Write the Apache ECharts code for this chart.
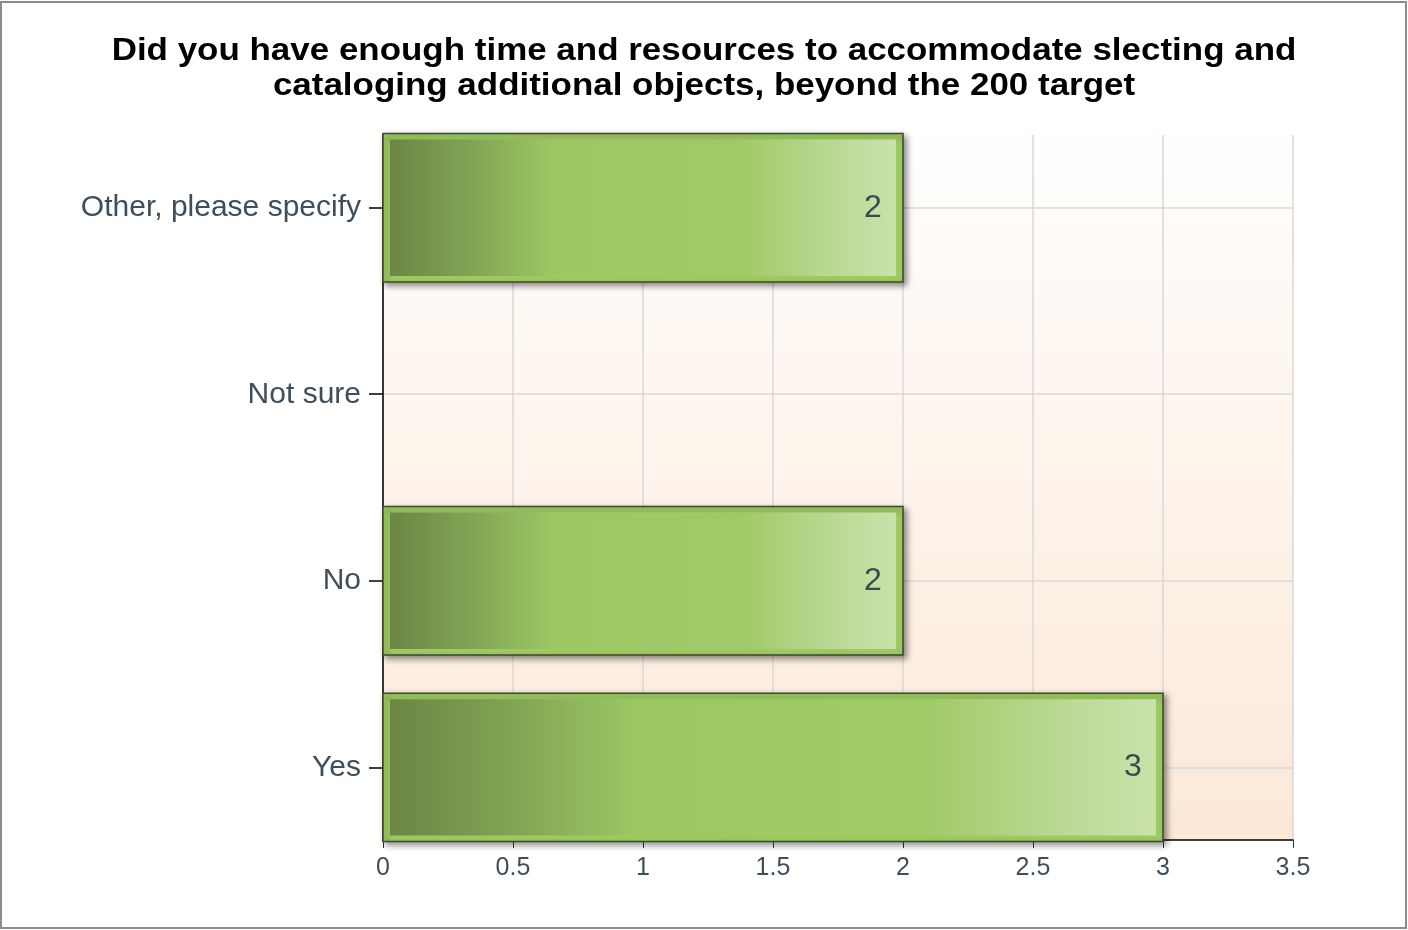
<!DOCTYPE html>
<html>
<head>
<meta charset="utf-8">
<script src="https://cdn.jsdelivr.net/npm/echarts@6/dist/echarts.min.js"></script>
<style>
html,body{margin:0;padding:0;background:#fff;}
#chart{width:1408px;height:930px;}
</style>
</head>
<body>
<div id="chart"></div>
<script>
const titleText = 'Did you have enough time and resources to accommodate slecting and\ncataloging additional objects, beyond the 200 target';
const categories = ['Yes', 'No', 'Not sure', 'Other, please specify'];
const values = [3, 2, 0, 2];
const xTicks = [0, 0.5, 1, 1.5, 2, 2.5, 3, 3.5];

const FONT = '"Liberation Sans", Arial, sans-serif';
const LABEL_COLOR = '#3d4e5c';

const seriesData = values.map((v, i) => [v, i]);
const catIndex = categories.map((c, i) => i);

const chart = echarts.init(document.getElementById('chart'), null, {renderer: 'canvas'});

const option = {
  animation: false,
  backgroundColor: '#ffffff',
  graphic: [{
    type: 'text',
    silent: true,
    x: 704,
    y: 69,
    scaleX: 1.165,
    scaleY: 1.04,
    style: {
      text: titleText,
      align: 'center',
      verticalAlign: 'middle',
      fontFamily: FONT,
      fontWeight: 'bold',
      fontSize: 30,
      lineHeight: 33,
      fill: '#000000'
    }
  }, {
    type: 'rect',
    silent: true,
    z: 100,
    shape: {x: 1, y: 2, width: 1405, height: 926},
    style: {fill: 'none', stroke: '#8c8c8c', lineWidth: 2}
  }],
  grid: {
    left: 383,
    right: 115,
    top: 135,
    bottom: 90,
    show: true,
    borderWidth: 0,
    backgroundColor: {
      type: 'linear', x: 0, y: 0, x2: 0, y2: 1,
      colorStops: [
        {offset: 0, color: '#fffefd'},
        {offset: 1, color: '#fbe8d7'}
      ]
    }
  },
  xAxis: {
    type: 'value',
    min: xTicks[0],
    max: xTicks[xTicks.length - 1],
    interval: 0.5,
    axisLine: {show: true, onZero: false, lineStyle: {color: '#000', width: 1.5}},
    axisTick: {show: true, length: 8, lineStyle: {color: '#333', width: 1}},
    axisLabel: {
      fontFamily: FONT, fontSize: 25, color: LABEL_COLOR, margin: 16,
      formatter: v => String(v)
    },
    splitLine: {show: true, lineStyle: {color: '#d9d9d9', width: 1.5}}
  },
  yAxis: {
    type: 'value',
    min: -0.39,
    max: 3.39,
    axisLine: {show: true, onZero: false, lineStyle: {color: '#000', width: 1.5}},
    axisTick: {show: true, length: 14, customValues: catIndex, lineStyle: {color: '#000', width: 1.5}},
    axisLabel: {
      customValues: catIndex,
      fontFamily: FONT, fontSize: 30, color: LABEL_COLOR, margin: 22,
      formatter: v => categories[Math.round(v)]
    },
    splitLine: {show: true, lineStyle: {color: '#d9d9d9', width: 1.5}}
  },
  series: [{
    type: 'custom',
    data: seriesData,
    encode: {x: 0, y: 1},
    clip: false,
    renderItem: function (params, api) {
      const v = api.value(0);
      const c = api.value(1);
      if (!(v > 0)) return null;
      const p0 = api.coord([0, c]);
      const p1 = api.coord([v, c]);
      const h = api.size([0, 0.795])[1];
      const x = p0[0];
      const y = p0[1] - h / 2;
      const w = p1[0] - p0[0];
      return {
        type: 'group',
        children: [
          {
            type: 'rect',
            shape: {x: x, y: y, width: w, height: h},
            style: {
              fill: '#9ecb62',
              stroke: '#3d4a30',
              lineWidth: 1.5,
              shadowBlur: 6,
              shadowOffsetX: 3,
              shadowOffsetY: 3,
              shadowColor: 'rgba(0,0,0,0.45)'
            }
          },
          {
            type: 'rect',
            shape: {x: x + 7, y: y + 6, width: w - 14, height: h - 12},
            style: {
              fill: {
                type: 'linear', x: 0, y: 0, x2: 1, y2: 0,
                colorStops: [
                  {offset: 0, color: '#6a8744'},
                  {offset: 0.15, color: '#7ea253'},
                  {offset: 0.32, color: '#9cc763'},
                  {offset: 0.7, color: '#a0ca67'},
                  {offset: 0.85, color: '#b5d78e'},
                  {offset: 1, color: '#c9e2ab'}
                ]
              }
            }
          },
          {
            type: 'text',
            style: {
              text: String(v),
              x: p1[0] - 30,
              y: p0[1],
              align: 'center',
              verticalAlign: 'middle',
              fontFamily: FONT,
              fontSize: 32,
              fill: '#3c4a50'
            }
          }
        ]
      };
    }
  }]
};

chart.setOption(option);
</script>
</body>
</html>
